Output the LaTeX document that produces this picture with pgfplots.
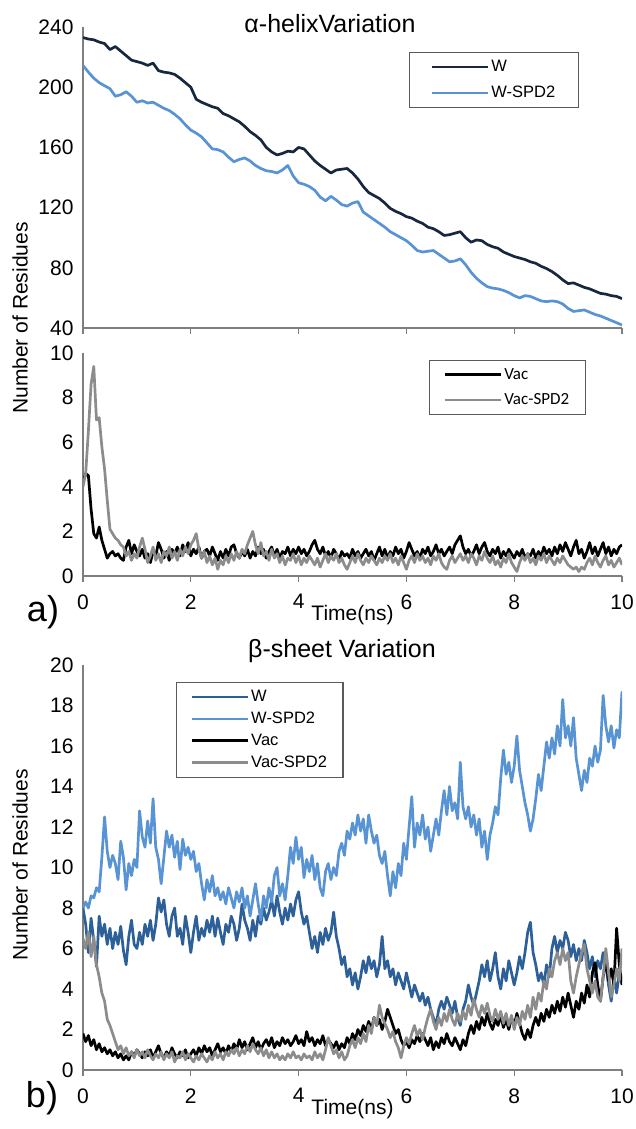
\documentclass[border=0pt]{standalone}
\usepackage{fontspec}
\setmainfont{Liberation Sans}
\newfontfamily\carlito{Carlito}
\usepackage{pgfplots}
\usepackage{pgfplotstable}
\pgfplotsset{compat=1.18}

\definecolor{topW}{HTML}{17283E}
\definecolor{wspd}{HTML}{5893D4}
\definecolor{botW}{HTML}{2D5F98}
\definecolor{vacspd}{HTML}{8C8C8C}
\definecolor{axisgray}{HTML}{7F7F7F}
\definecolor{boxgray}{HTML}{5A5A5A}

% alpha-helix, solvated
\pgfplotstableread{
t W WS
0.0 233 214.5
0.1 232 210
0.2 231.5 206
0.3 230 203
0.4 229 201
0.5 225 199
0.6 227 194
0.7 224 195
0.8 221 197
0.9 218 194
1.0 217 190
1.1 216 191
1.2 214.5 189.5
1.3 216 190
1.4 211 188
1.5 210 186
1.6 209.5 184.5
1.7 208.5 182
1.8 206 179
1.9 203 175
2.0 200 171.5
2.1 192 169.5
2.2 190 167
2.3 188.5 163
2.4 187 159
2.5 186 158.5
2.6 182.5 157
2.7 181 153.5
2.8 179 150.5
2.9 177 152
3.0 174 153
3.1 170.5 151
3.2 168 148
3.3 165 146
3.4 160 144.5
3.5 157 144
3.6 155 143
3.7 156 145
3.8 157.5 148
3.9 157 141
4.0 160 136.5
4.1 159 135.5
4.2 155 134
4.3 151 131.5
4.4 148 127
4.5 145.5 124.5
4.6 143 127.5
4.7 145 125
4.8 145.5 122
4.9 146 121
5.0 143 123
5.1 139 124
5.2 134 117
5.3 130 114.5
5.4 128 112
5.5 126 109.5
5.6 123 107
5.7 119.5 104
5.8 117.5 102
5.9 116 100
6.0 114 98
6.1 113 95
6.2 111 91.5
6.3 109.5 90.5
6.4 107 91
6.5 106 91.5
6.6 104 89
6.7 101.5 86.5
6.8 102 84
6.9 103 84.5
7.0 104 86
7.1 100 82
7.2 97 77
7.3 98.5 73
7.4 98 70
7.5 95.5 67.5
7.6 94 66.5
7.7 93 66
7.8 90.5 65
7.9 89 63.5
8.0 87.5 61.5
8.1 86.5 60
8.2 85.5 61.5
8.3 84 61
8.4 83 59.5
8.5 81 58
8.6 79.5 57.5
8.7 77.5 58
8.8 75 57.5
8.9 72 56
9.0 69.5 53
9.1 70 51
9.2 68.5 51.5
9.3 67 52
9.4 66 50.5
9.5 64.5 49
9.6 63 48
9.7 62.5 46.5
9.8 61.5 45
9.9 61 43.5
10.0 59.5 42
}\helixW

% alpha-helix, vacuum
\pgfplotstableread{
t Vac VacS
0.00 4.2 4.0
0.05 4.6 4.6
0.10 4.5 6.5
0.15 3.0 8.6
0.20 1.9 9.4
0.25 1.7 7.0
0.30 2.2 7.1
0.35 1.6 5.8
0.40 1.2 4.8
0.45 0.8 3.4
0.50 1.0 2.1
0.55 1.1 1.9
0.60 0.9 1.7
0.65 1.0 1.6
0.70 0.8 1.4
0.75 0.7 1.3
0.80 1.3 0.9
0.85 1.6 1.1
0.90 1.0 0.7
0.95 1.4 1.0
1.00 1.1 0.8
1.05 0.9 1.3
1.10 1.2 1.7
1.15 0.8 1.2
1.20 1.0 0.6
1.25 0.6 0.9
1.30 1.1 1.3
1.35 0.9 0.7
1.40 1.5 1.0
1.45 1.2 0.6
1.50 0.8 1.1
1.55 1.1 0.9
1.60 0.7 1.3
1.65 1.2 0.8
1.70 1.0 1.1
1.75 1.3 0.7
1.80 0.9 1.2
1.85 1.4 0.9
1.90 1.1 1.3
1.95 1.5 1.0
2.00 0.9 1.4
2.05 1.2 1.6
2.10 1.0 1.9
2.15 1.3 1.2
2.20 0.8 0.8
2.25 1.1 1.1
2.30 1.2 0.6
2.35 0.9 0.9
2.40 1.3 0.5
2.45 1.0 0.8
2.50 0.7 0.3
2.55 1.1 0.7
2.60 0.8 0.5
2.65 1.2 0.9
2.70 0.9 0.6
2.75 1.3 1.0
2.80 1.4 0.7
2.85 1.0 1.1
2.90 0.8 0.8
2.95 1.1 1.2
3.00 0.9 1.0
3.05 1.2 1.4
3.10 0.8 1.7
3.15 1.1 2.0
3.20 0.9 1.4
3.25 1.3 1.0
3.30 1.0 1.5
3.35 1.2 0.9
3.40 0.8 1.1
3.45 1.1 0.7
3.50 1.3 1.2
3.55 0.9 0.8
3.60 1.2 1.0
3.65 0.8 0.6
3.70 1.1 0.9
3.75 1.0 0.5
3.80 1.3 0.8
3.85 0.9 0.7
3.90 1.2 1.0
3.95 1.0 0.6
4.00 1.3 0.9
4.05 1.0 0.5
4.10 1.2 0.8
4.15 0.9 0.6
4.20 1.1 0.9
4.25 1.4 0.7
4.30 1.6 0.5
4.35 1.2 0.8
4.40 1.0 0.4
4.45 1.3 0.7
4.50 0.9 1.0
4.55 1.1 0.6
4.60 0.8 0.9
4.65 1.2 0.7
4.70 1.0 1.0
4.75 0.7 0.6
4.80 1.1 0.8
4.85 0.9 0.5
4.90 1.0 0.3
4.95 0.8 0.6
5.00 1.2 0.9
5.05 0.9 0.6
5.10 1.1 1.0
5.15 0.8 0.7
5.20 1.0 0.5
5.25 1.2 0.8
5.30 0.9 0.6
5.35 1.1 0.9
5.40 0.7 0.7
5.45 1.0 0.5
5.50 1.3 0.8
5.55 0.9 0.6
5.60 1.2 0.9
5.65 0.8 0.7
5.70 1.1 1.0
5.75 0.9 0.6
5.80 1.3 0.8
5.85 1.0 0.5
5.90 1.2 0.9
5.95 0.8 0.6
6.00 1.1 0.3
6.05 1.5 0.7
6.10 1.2 0.9
6.15 0.9 0.6
6.20 1.1 1.0
6.25 0.8 0.7
6.30 1.2 0.9
6.35 1.0 0.6
6.40 1.3 0.8
6.45 0.9 0.5
6.50 1.1 0.9
6.55 1.4 0.7
6.60 1.0 1.0
6.65 1.2 0.6
6.70 0.9 0.4
6.75 1.1 0.3
6.80 1.3 0.7
6.85 1.0 0.9
6.90 1.4 0.6
6.95 1.6 0.8
7.00 1.8 1.0
7.05 1.3 0.7
7.10 1.0 0.9
7.15 1.2 0.6
7.20 0.9 1.0
7.25 1.1 0.8
7.30 1.4 0.5
7.35 1.0 0.9
7.40 1.3 0.7
7.45 1.5 1.1
7.50 1.1 0.8
7.55 0.9 0.6
7.60 1.2 0.9
7.65 1.0 0.5
7.70 1.3 0.7
7.75 0.8 0.4
7.80 1.1 0.8
7.85 0.9 0.6
7.90 1.2 1.0
7.95 1.0 0.6
8.00 0.8 0.4
8.05 1.1 0.2
8.10 0.9 0.6
8.15 1.2 0.9
8.20 0.8 0.7
8.25 1.0 1.0
8.30 0.9 0.6
8.35 1.2 0.8
8.40 0.8 0.5
8.45 1.1 0.9
8.50 0.9 0.7
8.55 1.3 1.0
8.60 1.0 0.6
8.65 1.2 0.9
8.70 0.9 0.7
8.75 1.3 0.5
8.80 1.0 0.8
8.85 1.4 0.6
8.90 1.1 0.9
8.95 1.5 0.7
9.00 1.2 0.5
9.05 0.9 0.4
9.10 1.3 0.3
9.15 1.6 0.4
9.20 1.0 0.2
9.25 1.2 0.4
9.30 0.8 0.3
9.35 1.1 0.6
9.40 1.5 0.8
9.45 1.0 0.5
9.50 1.3 0.9
9.55 0.9 0.6
9.60 1.2 0.4
9.65 1.5 0.7
9.70 1.0 0.9
9.75 1.3 0.5
9.80 0.9 0.7
9.85 1.2 0.4
9.90 1.0 0.6
9.95 1.3 0.8
10.00 1.4 0.5
}\helixVac

% beta-sheet
\pgfplotstableread{
t W WS Vac VacS
0.00 8.0 8.0 1.8 6.5
0.05 7.2 8.3 1.4 6.0
0.10 5.8 8.0 1.7 6.8
0.15 7.5 8.6 1.2 5.6
0.20 6.4 8.5 1.5 6.6
0.25 5.1 9.0 1.0 5.2
0.30 7.6 8.8 1.3 4.6
0.35 6.6 10.5 0.9 3.8
0.40 7.2 12.5 1.1 3.4
0.45 6.2 10.8 0.8 2.5
0.50 7.0 10.0 1.0 2.2
0.55 6.0 10.6 0.7 1.8
0.60 6.8 10.2 0.9 1.4
0.65 6.2 9.4 0.6 1.0
0.70 7.1 11.3 0.8 1.2
0.75 5.9 10.5 0.5 0.8
0.80 5.2 8.9 0.7 1.1
0.85 6.6 10.2 0.5 0.7
0.90 7.4 9.6 0.9 0.9
0.95 6.2 10.4 0.7 0.6
1.00 6.0 10.0 1.0 1.0
1.05 6.8 12.8 0.8 0.7
1.10 6.2 11.5 0.6 0.9
1.15 7.2 11.0 0.9 0.6
1.20 6.6 12.3 0.7 1.0
1.25 7.4 11.2 1.0 0.7
1.30 6.4 13.4 0.6 0.5
1.35 7.2 11.0 0.9 0.8
1.40 8.5 10.4 1.2 0.6
1.45 7.8 9.2 0.8 0.9
1.50 8.4 10.5 0.6 0.5
1.55 7.2 11.8 0.9 0.8
1.60 6.6 11.0 0.7 0.6
1.65 7.6 11.6 1.1 0.9
1.70 8.0 10.5 0.8 0.4
1.75 6.6 11.3 0.6 0.7
1.80 7.0 9.9 0.9 0.6
1.85 6.2 11.4 0.7 0.9
1.90 7.6 10.6 1.0 0.5
1.95 6.8 11.0 0.6 0.8
2.00 5.8 10.4 0.8 0.6
2.05 6.8 10.8 1.0 0.4
2.10 7.6 9.8 0.7 0.7
2.15 6.4 10.2 1.1 0.5
2.20 7.0 9.2 0.8 0.8
2.25 6.6 8.4 1.2 0.6
2.30 7.4 9.4 0.9 0.4
2.35 6.8 8.8 1.1 0.7
2.40 7.6 9.6 0.7 0.5
2.45 6.6 8.6 1.0 0.9
2.50 7.5 9.0 1.3 0.6
2.55 6.8 8.4 0.9 0.8
2.60 6.2 8.8 1.1 0.5
2.65 7.2 8.2 0.8 0.9
2.70 6.8 9.0 1.2 0.7
2.75 7.6 8.5 0.9 1.0
2.80 7.2 8.0 1.3 0.8
2.85 6.4 8.8 1.0 1.1
2.90 7.0 8.3 1.5 0.7
2.95 8.2 9.0 1.1 1.0
3.00 7.4 8.0 1.4 0.8
3.05 7.0 8.6 1.0 1.2
3.10 6.4 7.6 1.3 0.9
3.15 7.4 8.4 1.6 1.3
3.20 6.6 9.2 1.1 1.0
3.25 7.6 8.2 1.4 0.8
3.30 7.2 7.4 1.0 1.1
3.35 8.0 8.6 1.3 0.7
3.40 7.4 8.0 1.5 1.0
3.45 7.8 9.0 1.2 0.6
3.50 8.4 8.3 1.6 0.9
3.55 7.6 9.6 1.1 0.6
3.60 8.6 10.0 1.4 0.8
3.65 7.8 8.6 1.2 0.5
3.70 7.2 9.2 1.6 0.7
3.75 8.0 8.4 1.3 0.5
3.80 7.4 9.6 1.5 0.8
3.85 8.2 11.0 1.2 0.6
3.90 7.6 10.2 1.4 0.9
3.95 8.4 11.5 1.7 0.6
4.00 8.8 10.4 1.3 0.7
4.05 7.8 11.0 1.5 0.5
4.10 7.2 9.5 1.2 0.8
4.15 7.6 10.4 1.9 0.6
4.20 6.8 9.8 1.4 0.7
4.25 6.0 10.6 1.6 0.5
4.30 6.6 9.4 1.2 0.9
4.35 5.8 10.2 1.5 0.6
4.40 6.8 9.0 1.3 0.8
4.45 6.2 8.6 1.7 0.5
4.50 7.0 9.8 1.2 1.0
4.55 6.4 10.2 1.5 1.6
4.60 6.8 9.4 1.3 1.2
4.65 7.8 10.0 1.1 0.8
4.70 6.6 9.6 1.4 1.0
4.75 6.0 10.8 1.0 0.6
4.80 5.2 11.2 1.3 0.9
4.85 5.6 10.6 1.1 0.5
4.90 4.6 11.8 1.6 0.7
4.95 5.0 11.4 1.3 1.2
5.00 4.2 12.2 1.8 1.5
5.05 4.8 11.6 1.5 1.1
5.10 4.0 12.6 2.0 1.6
5.15 4.6 11.8 1.7 1.3
5.20 5.4 12.4 2.2 1.8
5.25 4.8 11.2 1.9 1.4
5.30 5.6 12.6 2.4 2.2
5.35 5.0 11.8 2.0 1.8
5.40 5.4 11.2 2.6 2.6
5.45 4.6 11.6 2.2 2.2
5.50 5.2 10.6 2.5 3.2
5.55 6.6 10.2 2.0 2.6
5.60 5.0 10.8 2.4 2.3
5.65 5.4 9.6 3.0 2.0
5.70 4.6 8.6 2.6 1.6
5.75 5.0 9.8 2.2 1.9
5.80 4.2 9.0 1.8 1.4
5.85 4.8 10.2 2.0 1.1
5.90 4.4 9.6 1.5 0.6
5.95 4.0 11.2 1.2 1.2
6.00 4.8 10.4 1.4 1.6
6.05 4.2 12.0 1.1 1.3
6.10 3.6 13.5 1.5 1.8
6.15 4.2 11.0 1.3 2.2
6.20 3.8 12.2 1.7 1.7
6.25 3.4 11.6 1.4 2.0
6.30 3.8 12.6 1.8 1.5
6.35 3.2 11.4 1.5 2.1
6.40 3.6 12.0 1.2 2.6
6.45 3.0 10.8 1.6 3.0
6.50 2.6 11.6 1.0 2.4
6.55 2.2 12.4 1.4 2.0
6.60 3.0 11.6 1.1 2.6
6.65 3.4 12.8 1.6 2.2
6.70 3.0 13.8 1.3 2.8
6.75 3.6 12.6 1.8 2.4
6.80 3.2 14.0 1.4 3.0
6.85 2.8 12.8 1.2 2.5
6.90 3.4 13.2 1.6 2.2
6.95 2.6 12.4 1.3 2.8
7.00 2.2 15.2 1.0 2.4
7.05 3.0 13.0 1.5 2.9
7.10 3.4 12.4 1.2 2.5
7.15 4.2 13.0 1.8 3.2
7.20 3.6 12.0 2.2 2.7
7.25 3.2 12.6 1.8 3.5
7.30 3.8 11.6 2.4 3.0
7.35 4.4 12.4 2.0 2.6
7.40 5.2 11.0 2.6 3.2
7.45 4.6 11.8 2.2 2.8
7.50 5.4 10.4 2.8 3.3
7.55 4.4 11.6 2.3 2.7
7.60 5.0 12.2 2.0 2.4
7.65 5.8 13.0 2.5 3.0
7.70 4.6 12.6 2.2 2.5
7.75 4.0 14.4 2.7 2.9
7.80 5.0 15.8 2.1 2.3
7.85 4.4 14.6 2.5 2.8
7.90 5.4 15.2 2.0 2.2
7.95 4.8 14.2 2.6 2.7
8.00 4.2 15.0 2.2 2.0
8.05 4.8 16.5 2.8 2.6
8.10 5.6 14.8 2.3 2.2
8.15 5.0 14.0 1.8 2.9
8.20 5.8 13.2 1.5 2.5
8.25 6.8 12.6 2.0 3.2
8.30 7.3 11.8 1.6 2.6
8.35 5.8 12.4 2.2 3.6
8.40 5.2 13.4 2.6 3.0
8.45 4.4 14.6 2.2 3.8
8.50 4.8 13.8 2.8 3.4
8.55 4.2 15.0 2.4 4.4
8.60 5.2 16.2 3.0 4.0
8.65 4.6 15.4 2.6 5.0
8.70 6.0 16.4 3.2 4.6
8.75 6.6 15.6 2.8 5.4
8.80 5.8 17.0 3.4 5.8
8.85 6.4 16.0 2.9 5.2
8.90 6.0 18.3 3.6 6.0
8.95 6.8 16.4 3.1 5.4
9.00 6.4 17.0 3.8 5.8
9.05 5.6 16.0 3.2 4.4
9.10 6.2 17.4 2.6 3.8
9.15 5.4 15.4 3.4 4.6
9.20 6.0 14.6 3.0 5.2
9.25 5.4 13.8 3.8 5.8
9.30 6.4 14.8 3.3 6.2
9.35 5.8 14.2 4.2 5.0
9.40 5.0 15.4 3.6 4.4
9.45 5.6 15.0 4.8 3.8
9.50 4.6 16.0 5.3 4.4
9.55 5.4 15.2 4.2 3.6
9.60 5.0 15.8 3.4 3.4
9.65 5.8 18.5 4.6 4.6
9.70 5.2 17.0 5.4 6.0
9.75 4.2 16.2 4.4 4.8
9.80 3.4 17.0 5.0 3.6
9.85 4.6 15.9 4.2 4.2
9.90 3.8 16.8 7.0 5.0
9.95 4.8 16.4 5.2 4.4
10.00 4.4 18.7 4.2 6.0
}\sheet

\pgfplotsset{
  panel/.style={
    scale only axis, width=539bp,
    xmin=0, xmax=10,
    axis x line*=bottom, axis y line*=left,
    axis line style={draw=axisgray, line width=1.1bp, -},
    xtick={0,2,...,10},
    tick align=outside,
    xtick style={draw=axisgray, line width=1.1bp},
    ytick style={draw=none},
    major tick length=6bp,
    /pgf/number format/assume math mode=true,
    tick label style={font=\fontsize{21bp}{21bp}\selectfont},
    xticklabel style={yshift=-9bp},
    xlabel style={font=\fontsize{21bp}{21bp}\selectfont, at={(axis description cs:0.5,0)}, anchor=center, yshift=-39bp},
    legend cell align=left,
    legend image code/.code={\draw[##1, line width=2.7bp] (0bp,0bp) -- (56bp,0bp);},
    legend style={draw=boxgray, line width=1.1bp, font=\fontsize{16.5bp}{16.5bp}\selectfont,
      inner xsep=14bp, inner ysep=6bp, row sep=9bp},
  },
  data/.style={line width=2.7bp, line join=round},
}

\begin{document}
\begin{tikzpicture}
\path[use as bounding box] (0bp,0bp) rectangle (636bp,-1129bp);

% top panel
\begin{axis}[panel, at={(83bp,-328bp)}, anchor=south west, height=301bp,
  ymin=40, ymax=240, ytick={40,80,...,240}, xticklabels={},
  legend style={at={(0.605,0.917)}, anchor=north west, inner xsep=21bp}]
\addplot[data, color=topW] table[x=t, y=W] {\helixW};
\addlegendentry{W}
\addplot[data, color=wspd] table[x=t, y=WS] {\helixW};
\addlegendentry{W-SPD2}
\end{axis}

% middle panel
\begin{axis}[panel, at={(83bp,-576bp)}, anchor=south west, height=223bp,
  ymin=0, ymax=10, ytick={0,2,...,10}, xlabel={Time(ns)},
  legend style={at={(0.642,0.969)}, anchor=north west, font=\carlito\fontsize{17bp}{17bp}\selectfont}]
\addplot[data, color=black] table[x=t, y=Vac] {\helixVac};
\addlegendentry{Vac}
\addplot[data, color=vacspd] table[x=t, y=VacS] {\helixVac};
\addlegendentry{Vac-SPD2}
\end{axis}

% bottom panel
\begin{axis}[panel, at={(83bp,-1070bp)}, anchor=south west, height=405bp,
  ymin=0, ymax=20, ytick={0,2,...,20}, xlabel={Time(ns)},
  legend style={at={(0.1725,0.958)}, anchor=north west, row sep=5bp}]
\addplot[data, color=botW] table[x=t, y=W] {\sheet};
\addlegendentry{W}
\addplot[data, color=wspd] table[x=t, y=WS] {\sheet};
\addlegendentry{W-SPD2}
\addplot[data, color=black] table[x=t, y=Vac] {\sheet};
\addlegendentry{Vac}
\addplot[data, color=vacspd] table[x=t, y=VacS] {\sheet};
\addlegendentry{Vac-SPD2}
\end{axis}

\node[font=\fontsize{25bp}{25bp}\selectfont] at (330bp,-24bp) {α-helixVariation};
\node[font=\fontsize{25bp}{25bp}\selectfont] at (342bp,-651bp) {β-sheet Variation};
\node[rotate=90, font=\fontsize{21bp}{21bp}\selectfont] at (20bp,-318bp) {Number of Residues};
\node[rotate=90, font=\fontsize{21bp}{21bp}\selectfont] at (20bp,-865bp) {Number of Residues};
\node[font=\fontsize{36bp}{36bp}\selectfont] at (43bp,-612bp) {a)};
\node[font=\fontsize{36bp}{36bp}\selectfont] at (42bp,-1098bp) {b)};
\end{tikzpicture}
\end{document}
